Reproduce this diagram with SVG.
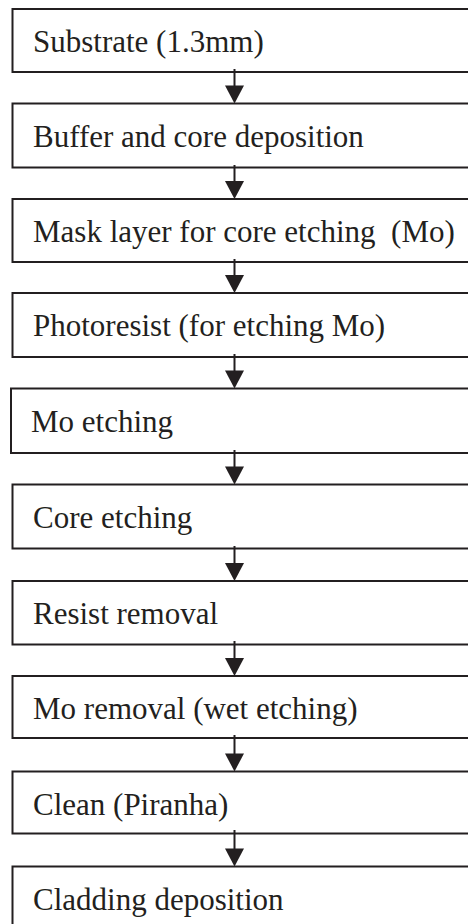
<svg xmlns="http://www.w3.org/2000/svg" width="468" height="924" viewBox="0 0 468 924">
<defs>
<style>
.box{fill:#fff;stroke:#231f20;stroke-width:2}
.lbl{font-family:"Liberation Serif","Times New Roman",serif;font-size:31px;fill:#231f20;white-space:pre}
.conn line{stroke:#231f20;stroke-width:2}
.conn polygon{fill:#231f20}
</style>
</defs>
<rect width="468" height="924" fill="#fff"/>
<g id="n1"><rect class="box" x="12.5" y="9" width="470" height="63"/><text class="lbl" x="33" y="52">Substrate (1.3mm)</text></g>
<g id="n2"><rect class="box" x="12.5" y="103.5" width="470" height="64"/><text class="lbl" x="33" y="146.5">Buffer and core deposition</text></g>
<g id="n3"><rect class="box" x="12.5" y="199" width="470" height="63"/><text class="lbl" x="33" y="242" xml:space="preserve">Mask layer for core etching  (Mo)</text></g>
<g id="n4"><rect class="box" x="12.5" y="293" width="470" height="64"/><text class="lbl" x="33" y="336">Photoresist (for etching Mo)</text></g>
<g id="n5"><rect class="box" x="11" y="388.5" width="470" height="64.5"/><text class="lbl" x="31" y="431.5">Mo etching</text></g>
<g id="n6"><rect class="box" x="12.5" y="484.5" width="470" height="64"/><text class="lbl" x="33" y="527.5">Core etching</text></g>
<g id="n7"><rect class="box" x="12.5" y="581" width="470" height="63.5"/><text class="lbl" x="33" y="624">Resist removal</text></g>
<g id="n8"><rect class="box" x="12.5" y="676" width="470" height="62"/><text class="lbl" x="33" y="719">Mo removal (wet etching)</text></g>
<g id="n9"><rect class="box" x="12.5" y="771.5" width="470" height="62"/><text class="lbl" x="33" y="814.5">Clean (Piranha)</text></g>
<g id="n10"><rect class="box" x="12.5" y="866.5" width="470" height="70"/><text class="lbl" x="33" y="909.5">Cladding deposition</text></g>
<g id="connectors" class="conn">
<line x1="234.5" y1="69" x2="234.5" y2="88"/><polygon points="225,85.5 244,85.5 234.5,103.5"/>
<line x1="234.5" y1="165" x2="234.5" y2="183"/><polygon points="225,181 244,181 234.5,199"/>
<line x1="234.5" y1="259" x2="234.5" y2="277"/><polygon points="225,275 244,275 234.5,293"/>
<line x1="234.5" y1="354" x2="234.5" y2="373"/><polygon points="225,370.5 244,370.5 234.5,388.5"/>
<line x1="234.5" y1="450" x2="234.5" y2="469"/><polygon points="225,466.5 244,466.5 234.5,484.5"/>
<line x1="234.5" y1="546" x2="234.5" y2="565"/><polygon points="225,563 244,563 234.5,581"/>
<line x1="234.5" y1="641" x2="234.5" y2="660"/><polygon points="225,658 244,658 234.5,676"/>
<line x1="234.5" y1="735" x2="234.5" y2="756"/><polygon points="225,753.5 244,753.5 234.5,771.5"/>
<line x1="234.5" y1="830" x2="234.5" y2="851"/><polygon points="225,848.5 244,848.5 234.5,866.5"/>
</g>
</svg>
